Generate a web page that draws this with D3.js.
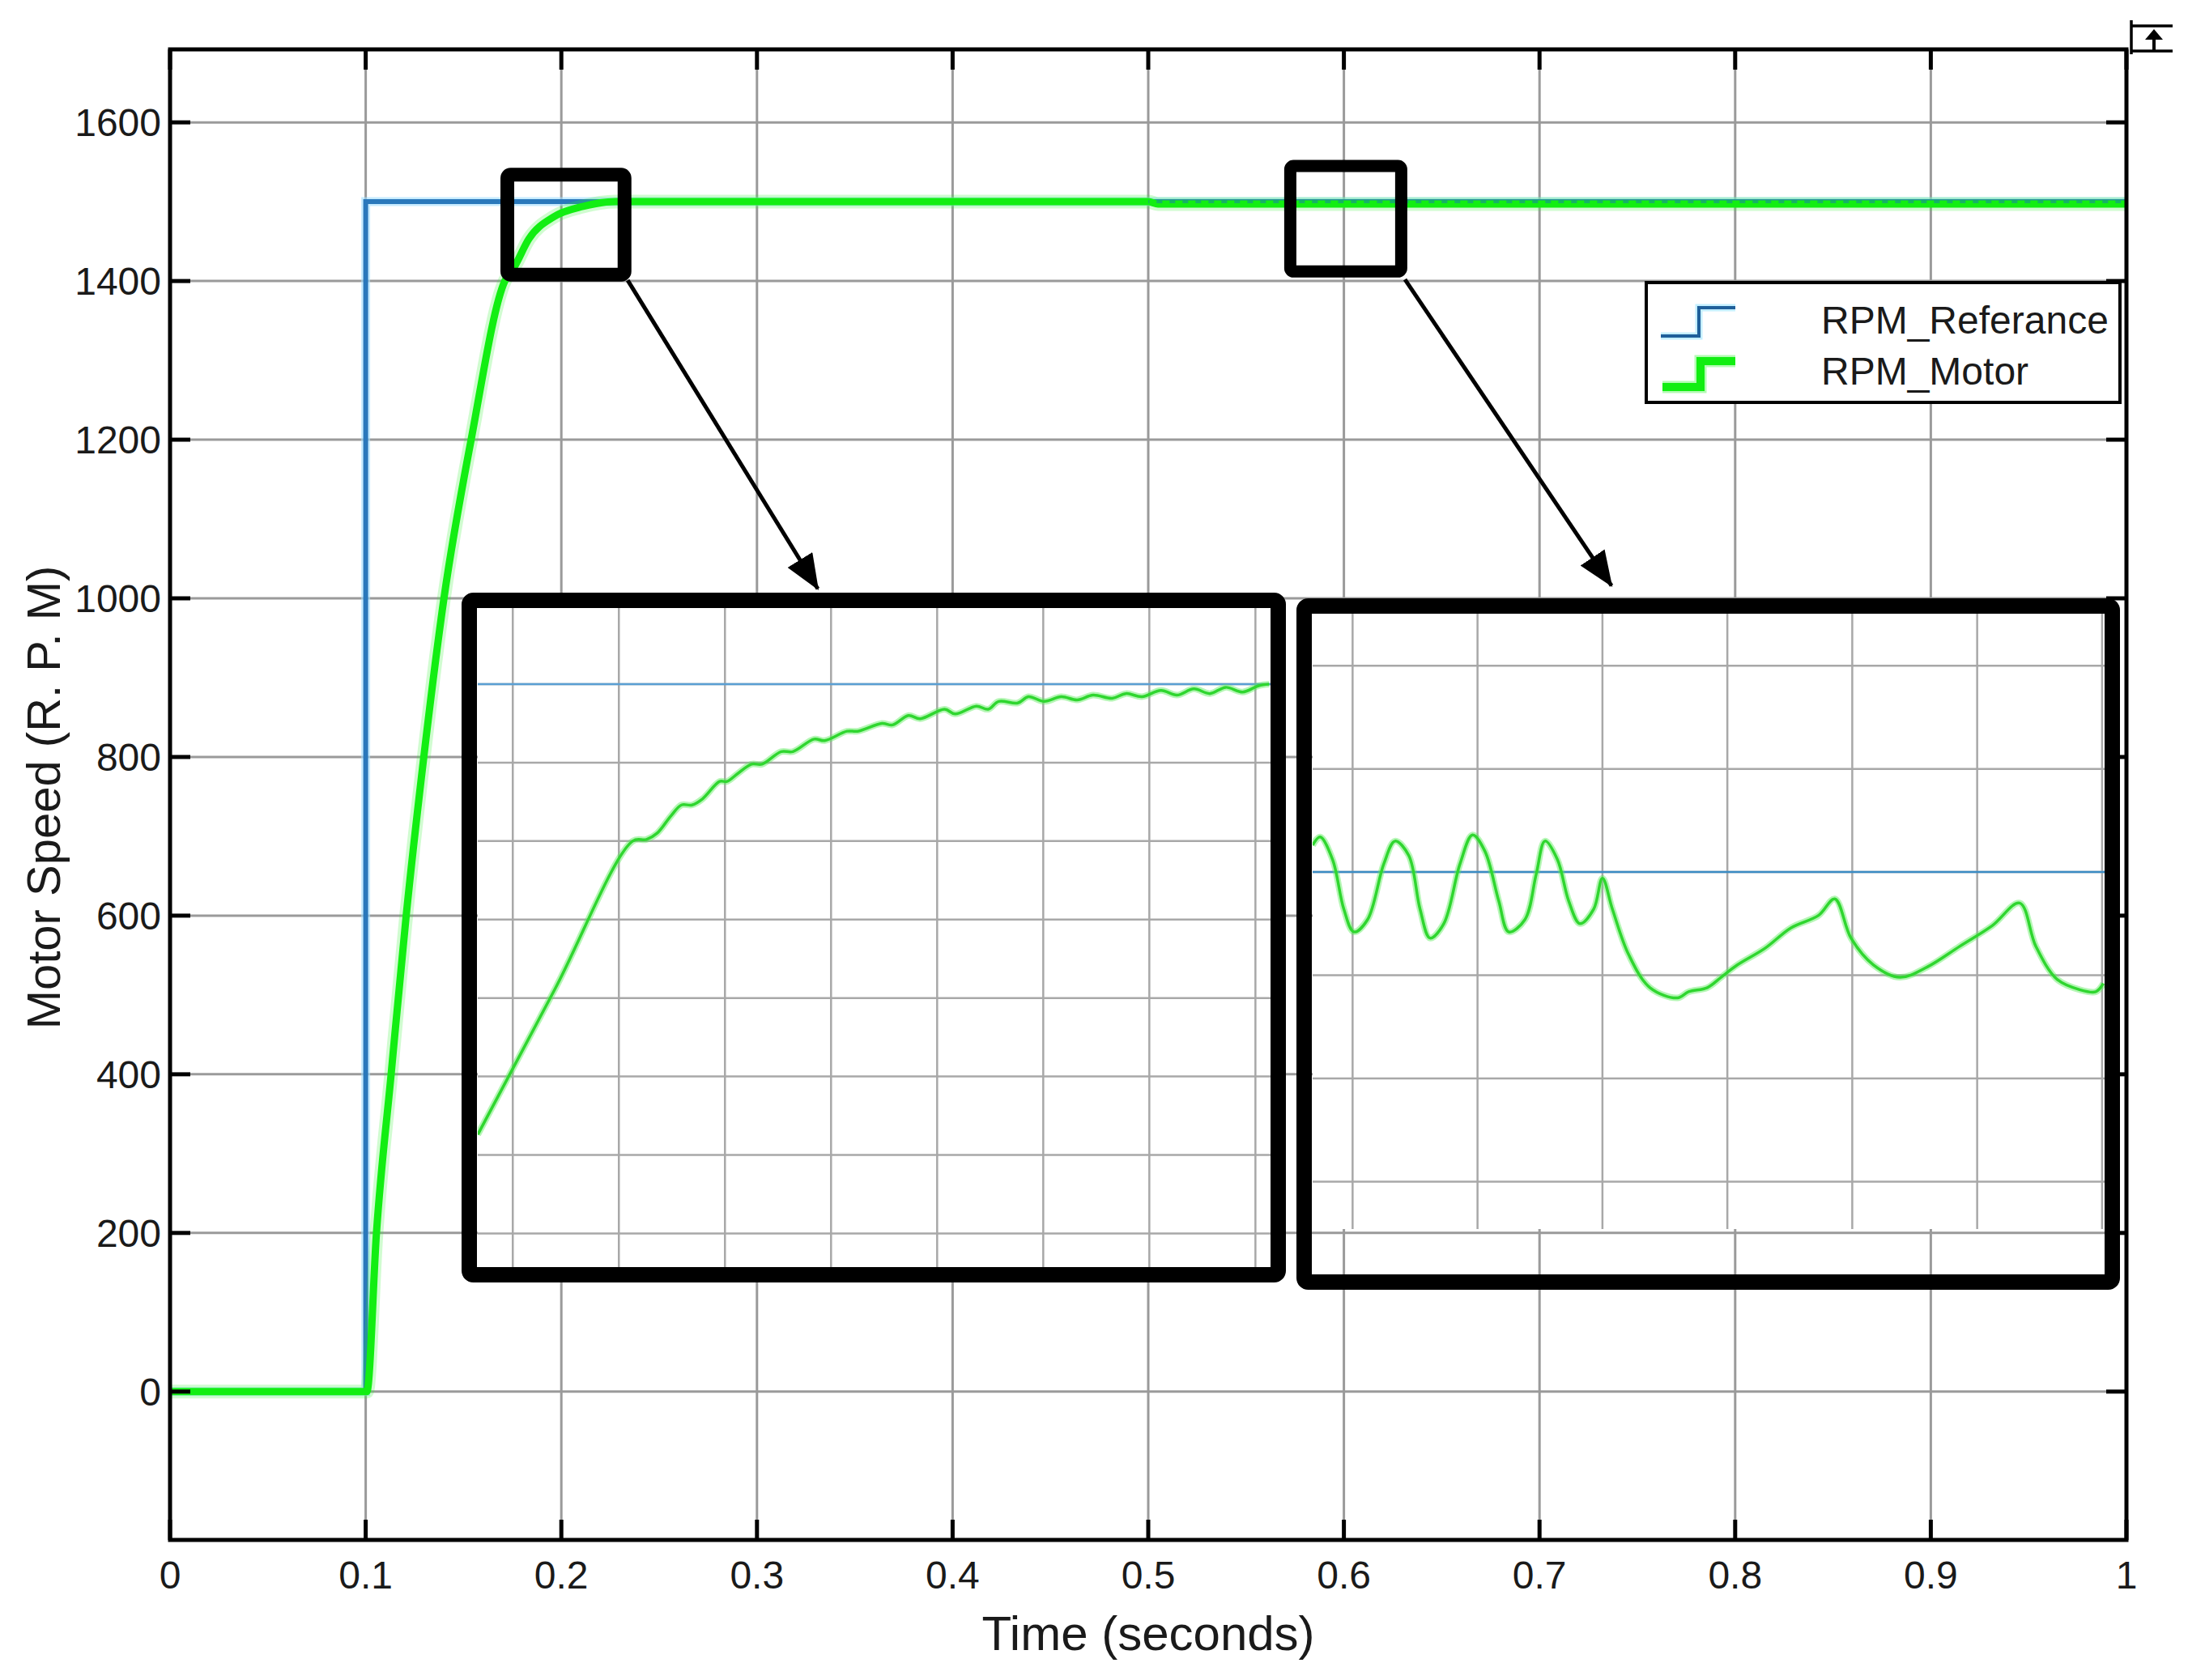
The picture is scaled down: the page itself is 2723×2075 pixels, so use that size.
<!DOCTYPE html>
<html>
<head>
<meta charset="utf-8">
<script src="https://cdn.jsdelivr.net/npm/d3@7"></script>
<style>
  body { margin: 0; background: #fff; }
  text { font-family: "Liberation Sans", Arial, sans-serif; fill: #1a1a1a; }
</style>
</head>
<body>
<div id="chart"></div>
<script>
// ---- main traces (time in s, speed in rpm) ----
var refTime = [0, 0.1, 0.1, 1]
var refRpm = [0, 0, 1500, 1500]

var motorTime = [0, 0.1, 0.1006, 0.1055, 0.113, 0.1207, 0.1297, 0.14, 0.1539, 0.1711, 0.176, 0.1834, 0.1962, 0.211, 0.2277, 0.5, 0.505, 1.0]
var motorRpm = [0, 0, 0, 200, 400, 600, 800, 1000, 1200, 1400, 1418, 1453, 1481, 1494, 1500, 1500, 1497, 1497]

var xTicks = [0, 0.1, 0.2, 0.3, 0.4, 0.5, 0.6, 0.7, 0.8, 0.9, 1]
var xTickLabels = ["0", "0.1", "0.2", "0.3", "0.4", "0.5", "0.6", "0.7", "0.8", "0.9", "1"]
var yTicks = [0, 200, 400, 600, 800, 1000, 1200, 1400, 1600]

// ---- zoom 1 : rise towards 1500 rpm ----
var zoom1Time = [0.1567, 0.164, 0.1713, 0.1726, 0.1736, 0.1749, 0.1759, 0.1769, 0.1779, 0.1795, 0.1802, 0.1812, 0.1825, 0.1835, 0.1853, 0.1864, 0.1884, 0.1894, 0.1915, 0.1925, 0.1948, 0.1958, 0.1973, 0.1984, 0.2007, 0.2017, 0.2037, 0.2048, 0.2058, 0.2076, 0.2086, 0.2101, 0.2117, 0.2132, 0.2147, 0.2165, 0.2178, 0.2193, 0.2211, 0.2226, 0.2242, 0.2257, 0.2272, 0.2288, 0.2303, 0.2313]
var zoom1Rpm = [1213, 1306, 1400, 1401, 1405, 1416, 1423, 1423, 1427, 1438, 1438, 1443, 1449, 1449, 1457, 1457, 1465, 1464, 1470, 1470, 1475, 1474, 1480, 1478, 1484, 1481, 1486, 1484, 1489, 1488, 1492, 1489, 1492, 1490, 1493, 1491, 1494, 1492, 1496, 1493, 1497, 1494, 1498, 1495, 1499, 1500]
var zoom1XTicks = [0.16, 0.17, 0.18, 0.19, 0.2, 0.21, 0.22, 0.23]
var zoom1YTicks = [1150, 1200, 1250, 1300, 1350, 1400, 1450, 1500]

// ---- zoom 2 : steady state around 0.6 s ----
var zoom2Time = [0.5668, 0.5674, 0.5684, 0.5693, 0.5701, 0.5712, 0.5725, 0.5734, 0.5745, 0.5754, 0.5762, 0.5773, 0.5786, 0.5796, 0.5806, 0.5817, 0.5825, 0.5838, 0.5847, 0.5854, 0.5864, 0.5873, 0.5882, 0.5893, 0.59, 0.5908, 0.5921, 0.5938, 0.596, 0.5969, 0.5984, 0.5995, 0.6008, 0.603, 0.6051, 0.6073, 0.6086, 0.6099, 0.6117, 0.6138, 0.616, 0.6186, 0.6212, 0.6234, 0.6247, 0.6264, 0.6282, 0.6295, 0.6301]
var zoom2Rpm = [1501.3, 1501.7, 1500.6, 1498.2, 1497.1, 1497.7, 1500.4, 1501.5, 1500.8, 1498.2, 1496.8, 1497.5, 1500.4, 1501.8, 1501.0, 1498.6, 1497.1, 1497.7, 1499.9, 1501.5, 1500.6, 1498.6, 1497.5, 1498.2, 1499.7, 1498.2, 1496.0, 1494.4, 1493.9, 1494.2, 1494.4, 1494.9, 1495.5, 1496.3, 1497.3, 1497.9, 1498.7, 1496.8, 1495.5, 1494.9, 1495.4, 1496.4, 1497.4, 1498.5, 1496.4, 1494.8, 1494.3, 1494.2, 1494.6]
var zoom2XTicks = [0.57, 0.58, 0.59, 0.6, 0.61, 0.62, 0.63]
var zoom2YTicks = [1485, 1490, 1495, 1500, 1505, 1510]

// zoom boxes on the main axes: [t0, t1, rpm0, rpm1]
var zoomBox1 = [0.1724, 0.2323, 1408, 1534]
var zoomBox2 = [0.5726, 0.6293, 1412, 1545]
// arrows: [tStart, rpmStart, tEnd, rpmEnd]
var arrow1 = [0.2339, 1401, 0.3311, 1012]
var arrow2 = [0.6312, 1402, 0.7368, 1016]

var legendNames = ["RPM_Referance", "RPM_Motor"]

var W = 2723, H = 2075
var plotLeft = 210, plotRight = 2626, plotTop = 61, plotBottom = 1902

var svg = d3.select("#chart").append("svg")
  .attr("width", W).attr("height", H)

svg.append("rect").attr("width", W).attr("height", H).attr("fill", "#fff")

var x = d3.scaleLinear().domain([0, 1]).range([plotLeft, plotRight])
var y = d3.scaleLinear().domain([-187, 1692]).range([plotBottom, plotTop])

var defs = svg.append("defs")

// grid
svg.append("g").selectAll("line").data(xTicks.slice(1, -1)).enter().append("line")
  .attr("x1", d => x(d)).attr("x2", d => x(d)).attr("y1", plotTop).attr("y2", plotBottom)
  .attr("stroke", "#9a9a9a").attr("stroke-width", 3)
svg.append("g").selectAll("line").data(yTicks).enter().append("line")
  .attr("x1", plotLeft).attr("x2", plotRight).attr("y1", d => y(d)).attr("y2", d => y(d))
  .attr("stroke", "#9a9a9a").attr("stroke-width", 3)

function zipped(ts, vs) {
  return ts.map((t, i) => [t, vs[i]])
}

var refLine = d3.line().x(d => x(d[0])).y(d => y(d[1]))
var motorLine = d3.line().x(d => x(d[0])).y(d => y(d[1])).curve(d3.curveMonotoneX)

var refData = zipped(refTime, refRpm)
var motorData = zipped(motorTime, motorRpm)

// reference (blue)
svg.append("path").attr("d", refLine(refData)).attr("fill", "none")
  .attr("stroke", "rgba(160,222,255,0.6)").attr("stroke-width", 11)
svg.append("path").attr("d", refLine(refData)).attr("fill", "none")
  .attr("stroke", "#2a78bb").attr("stroke-width", 6)

// motor (green)
svg.append("path").attr("d", motorLine(motorData)).attr("fill", "none")
  .attr("stroke", "rgba(40,240,40,0.22)").attr("stroke-width", 17)
svg.append("path").attr("d", motorLine(motorData)).attr("fill", "none")
  .attr("stroke", "#12ee12").attr("stroke-width", 9)

// ripple look after 0.5 s, blue showing through the green
defs.append("clipPath").attr("id", "lateClip").append("rect")
  .attr("x", x(0.5)).attr("y", plotTop).attr("width", x(1) - x(0.5)).attr("height", plotBottom - plotTop)
svg.append("path").attr("d", refLine(refData)).attr("fill", "none")
  .attr("clip-path", "url(#lateClip)")
  .attr("stroke", "#17a57a").attr("stroke-width", 4).attr("stroke-opacity", 0.8)
  .attr("stroke-dasharray", "7 9")

// frame + ticks
svg.append("rect").attr("x", plotLeft).attr("y", plotTop)
  .attr("width", plotRight - plotLeft).attr("height", plotBottom - plotTop)
  .attr("fill", "none").attr("stroke", "#000").attr("stroke-width", 5)

var tk = svg.append("g").attr("stroke", "#000").attr("stroke-width", 5)
xTicks.forEach(d => {
  tk.append("line").attr("x1", x(d)).attr("x2", x(d)).attr("y1", plotBottom).attr("y2", plotBottom - 25)
  tk.append("line").attr("x1", x(d)).attr("x2", x(d)).attr("y1", plotTop).attr("y2", plotTop + 25)
})
yTicks.forEach(d => {
  tk.append("line").attr("x1", plotLeft).attr("x2", plotLeft + 25).attr("y1", y(d)).attr("y2", y(d))
  tk.append("line").attr("x1", plotRight).attr("x2", plotRight - 25).attr("y1", y(d)).attr("y2", y(d))
})

// tick labels
svg.append("g").selectAll("text").data(xTicks).enter().append("text")
  .attr("x", d => x(d)).attr("y", 1962).attr("text-anchor", "middle")
  .attr("font-size", 48).text((d, i) => xTickLabels[i])
svg.append("g").selectAll("text").data(yTicks).enter().append("text")
  .attr("x", 199).attr("y", d => y(d)).attr("dy", "0.36em").attr("text-anchor", "end")
  .attr("font-size", 48).text(d => d)

// axis titles
svg.append("text").attr("x", (plotLeft + plotRight) / 2).attr("y", 2038).attr("text-anchor", "middle")
  .attr("font-size", 60).text("Time (seconds)")
svg.append("text").attr("transform", "translate(74,985) rotate(-90)").attr("text-anchor", "middle")
  .attr("font-size", 58).text("Motor Speed (R. P. M)")

// zoom boxes
function drawBox(b, w) {
  svg.append("rect")
    .attr("x", x(b[0])).attr("y", y(b[3]))
    .attr("width", x(b[1]) - x(b[0])).attr("height", y(b[2]) - y(b[3]))
    .attr("rx", 4).attr("fill", "none").attr("stroke", "#000").attr("stroke-width", w)
}
drawBox(zoomBox1, 17)
drawBox(zoomBox2, 15)

// arrows
defs.append("marker").attr("id", "head").attr("markerUnits", "userSpaceOnUse")
  .attr("viewBox", "0 0 44 36").attr("refX", 42).attr("refY", 18)
  .attr("markerWidth", 44).attr("markerHeight", 36).attr("orient", "auto")
  .append("path").attr("d", "M0,0 L44,18 L0,36 Z").attr("fill", "#000")

function drawArrow(a) {
  svg.append("line")
    .attr("x1", x(a[0])).attr("y1", y(a[1])).attr("x2", x(a[2])).attr("y2", y(a[3]))
    .attr("stroke", "#000").attr("stroke-width", 5).attr("marker-end", "url(#head)")
}
drawArrow(arrow1)
drawArrow(arrow2)

// legend
var lg = svg.append("g")
lg.append("rect").attr("x", 2033).attr("y", 349).attr("width", 585).attr("height", 148)
  .attr("fill", "#fff").attr("stroke", "#000").attr("stroke-width", 4)
lg.append("path").attr("d", "M2051,415 H2098 V380 H2143").attr("fill", "none")
  .attr("stroke", "#c4efff").attr("stroke-width", 9)
lg.append("path").attr("d", "M2051,415 H2098 V380 H2143").attr("fill", "none")
  .attr("stroke", "#1f5f9a").attr("stroke-width", 4)
lg.append("path").attr("d", "M2053,478 H2100 V446 H2143").attr("fill", "none")
  .attr("stroke", "rgba(40,240,40,0.35)").attr("stroke-width", 15)
lg.append("path").attr("d", "M2053,478 H2100 V446 H2143").attr("fill", "none")
  .attr("stroke", "#12ee12").attr("stroke-width", 10)
lg.selectAll("text").data(legendNames).enter().append("text")
  .attr("x", 2249).attr("y", (d, i) => 412 + i * 63).attr("font-size", 48).text(d => d)

// insets
function drawInset(id, plot, frame, xDom, yDom, xt, yt, ts, vs, blueColor) {
  var ix = d3.scaleLinear().domain(xDom).range([plot[0], plot[2]])
  var iy = d3.scaleLinear().domain(yDom).range([plot[3], plot[1]])
  var g = svg.append("g")
  g.append("rect").attr("x", plot[0]).attr("y", plot[1])
    .attr("width", plot[2] - plot[0]).attr("height", plot[3] - plot[1]).attr("fill", "#fff")
  g.selectAll(".vg").data(xt).enter().append("line")
    .attr("x1", d => ix(d)).attr("x2", d => ix(d)).attr("y1", plot[1]).attr("y2", plot[3])
    .attr("stroke", "#a8a8a8").attr("stroke-width", 2.5)
  g.selectAll(".hg").data(yt).enter().append("line")
    .attr("x1", plot[0]).attr("x2", plot[2]).attr("y1", d => iy(d)).attr("y2", d => iy(d))
    .attr("stroke", "#a8a8a8").attr("stroke-width", 2.5)

  defs.append("clipPath").attr("id", id).append("rect")
    .attr("x", plot[0]).attr("y", plot[1]).attr("width", plot[2] - plot[0]).attr("height", plot[3] - plot[1])
  var c = g.append("g").attr("clip-path", "url(#" + id + ")")

  // reference level inside the zoom window
  var level = refRpm[refRpm.length - 1]
  c.append("line").attr("x1", plot[0]).attr("x2", plot[2]).attr("y1", iy(level)).attr("y2", iy(level))
    .attr("stroke", blueColor).attr("stroke-width", 2.5)

  var gl = d3.line().x(d => ix(d[0])).y(d => iy(d[1])).curve(d3.curveCatmullRom.alpha(0.5))
  var dat = zipped(ts, vs)
  c.append("path").attr("d", gl(dat)).attr("fill", "none")
    .attr("stroke", "rgba(90,235,90,0.45)").attr("stroke-width", 8)
  c.append("path").attr("d", gl(dat)).attr("fill", "none")
    .attr("stroke", "#2fd62f").attr("stroke-width", 3.5)

  g.append("rect").attr("x", frame[0]).attr("y", frame[1])
    .attr("width", frame[2] - frame[0]).attr("height", frame[3] - frame[1])
    .attr("rx", 5).attr("fill", "none").attr("stroke", "#000").attr("stroke-width", 19)
}

drawInset("inset1", [590, 751, 1570, 1568], [579.5, 741.5, 1578.5, 1574.5],
  [0.1567, 0.2315], [1127, 1548.5], zoom1XTicks, zoom1YTicks, zoom1Time, zoom1Rpm, "#5a9fd4")
drawInset("inset2", [1621, 756, 2599, 1518], [1610.5, 748.5, 2608.5, 1583.5],
  [0.5668, 0.6302], [1482.7, 1512.6], zoom2XTicks, zoom2YTicks, zoom2Time, zoom2Rpm, "#3b8cc4")

// little scope icon, top right
var ic = svg.append("g").attr("stroke", "#000").attr("stroke-width", 3.5)
ic.append("line").attr("x1", 2631).attr("x2", 2683).attr("y1", 32).attr("y2", 32)
ic.append("line").attr("x1", 2631).attr("x2", 2683).attr("y1", 63).attr("y2", 63)
ic.append("line").attr("x1", 2632).attr("x2", 2632).attr("y1", 25).attr("y2", 67)
ic.append("line").attr("x1", 2660).attr("x2", 2660).attr("y1", 44).attr("y2", 62).attr("stroke-width", 4)
svg.append("path").attr("d", "M2649,49 L2660,36 L2671,49 Z").attr("fill", "#000")
</script>
</body>
</html>
